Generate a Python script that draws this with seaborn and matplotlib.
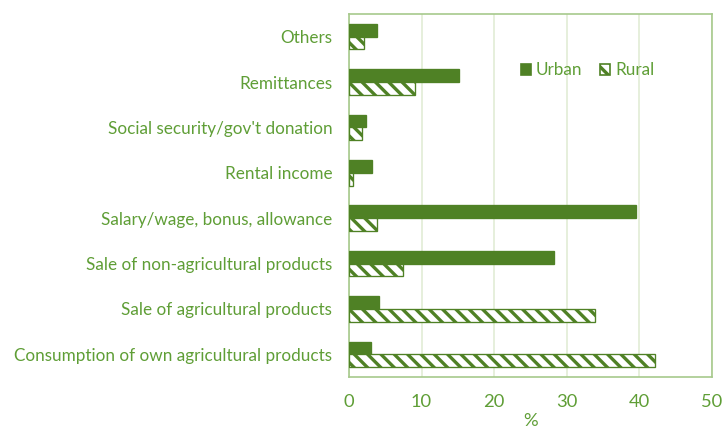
import pandas as pd
import seaborn as sns
import matplotlib.pyplot as plt
from matplotlib.patches import Patch

categories = [
    "Others",
    "Remittances",
    "Social security/gov't donation",
    "Rental income",
    "Salary/wage, bonus, allowance",
    "Sale of non-agricultural products",
    "Sale of agricultural products",
    "Consumption of own agricultural products",
]
urban = [3.9, 15.1, 2.3, 3.1, 39.6, 28.2, 4.2, 3.0]
rural = [2.1, 9.1, 1.75, 0.6, 3.8, 7.5, 33.9, 42.1]
areas = ["Urban", "Rural"]
x_ticks = [0, 10, 20, 30, 40, 50]

dark_green = "#4f8125"
text_green = "#5f9e36"
frame_green = "#a7c98c"
grid_green = "#e1ecd6"

df = pd.DataFrame({
    "category": categories * 2,
    "value": urban + rural,
    "area": ["Urban"] * len(urban) + ["Rural"] * len(rural),
})

sns.set_style("white")
plt.rcParams["font.family"] = ["Lato", "DejaVu Sans"]
plt.rcParams["hatch.linewidth"] = 2.0
plt.rcParams["hatch.color"] = dark_green

dpi = 120
fig = plt.figure(figsize=(724 / dpi, 430 / dpi), dpi=dpi)
ax = fig.add_axes([349 / 724, 1 - 377 / 430, 363 / 724, 363 / 430])

sns.barplot(
    data=df, y="category", x="value", hue="area", hue_order=areas,
    order=categories, orient="h", width=0.56,
    palette={"Urban": dark_green, "Rural": dark_green}, ax=ax,
    legend=False, zorder=3,
)

for bar in ax.containers[0]:
    bar.set_facecolor(dark_green)
    bar.set_edgecolor(dark_green)
    bar.set_linewidth(0.8)
for bar in ax.containers[1]:
    bar.set_facecolor("white")
    bar.set_edgecolor(dark_green)
    bar.set_hatch("\\\\\\")
    bar.set_linewidth(0.8)

ax.set_xlim(0, 50)
ax.set_xticks(x_ticks)
ax.grid(axis="x", color=grid_green, linewidth=1.0, zorder=0)
ax.set_axisbelow(True)
for s in ax.spines.values():
    s.set_color(frame_green)
    s.set_linewidth(1.0)

ax.tick_params(axis="y", length=0, pad=10, labelsize=10.3, labelcolor=text_green)
ax.tick_params(axis="x", length=0, pad=10, labelsize=11, labelcolor=text_green)
ax.set_ylabel("")
ax.set_xlabel("%", color=text_green, fontsize=11, labelpad=2)

handles = [
    Patch(facecolor=dark_green, edgecolor=dark_green, label="Urban"),
    Patch(facecolor="white", edgecolor=dark_green, hatch="\\\\\\", label="Rural"),
]
leg = ax.legend(
    handles=handles, loc="center left", bbox_to_anchor=(0.43, 0.845),
    ncol=2, frameon=False, handlelength=0.6, handleheight=0.6,
    handletextpad=0.3, columnspacing=1.0, fontsize=10.3,
)
for t in leg.get_texts():
    t.set_color(text_green)

fig.savefig("out.png", dpi=dpi)
